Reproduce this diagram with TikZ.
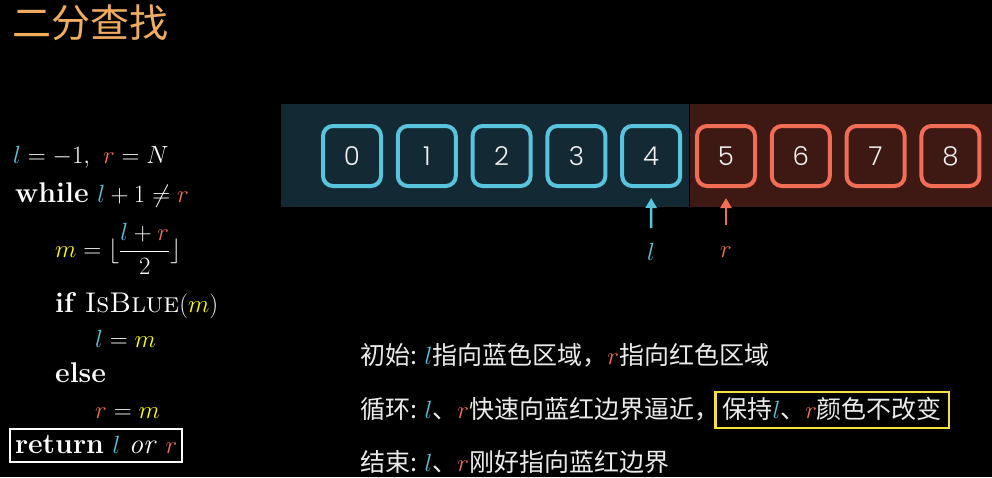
\documentclass[tikz,border=0pt]{standalone}
\usepackage{fontspec}
\newfontfamily\cjk{Noto Sans CJK SC}
\newfontfamily\digitfont{Poppins Light}
\usetikzlibrary{arrows.meta,positioning}

\definecolor{bgblue}{HTML}{132A35}
\definecolor{bgred}{HTML}{3E1913}
\definecolor{lblue}{HTML}{58C4DD}
\definecolor{lred}{HTML}{F26D55}
\definecolor{myyellow}{HTML}{FFFF00}
\definecolor{boxyellow}{HTML}{F5E13C}
\definecolor{titlegold}{HTML}{F0AC5F}

\newcommand{\lv}{\textcolor{lblue}{l}}
\newcommand{\rv}{\textcolor{lred}{r}}
\newcommand{\mv}{\textcolor{myyellow}{m}}

\tikzset{
  cell/.style={rounded corners=10pt, line width=4pt, minimum width=58pt,
    minimum height=60pt, inner sep=0pt, text=white!94!black,
    font=\digitfont\fontsize{26}{30}\selectfont},
  bluecell/.style={cell, draw=lblue},
  redcell/.style={cell, draw=lred},
  codeline/.style={anchor=base west, inner sep=0pt, text=white,
    font=\fontsize{28.5}{33}\selectfont},
  noteline/.style={anchor=base west, inner sep=0pt, text=white!92!black,
    font=\cjk\fontsize{25}{30}\selectfont},
  ptr/.style={->, line width=2.5pt, >={Triangle[width=11pt,length=10pt]}},
}

\begin{document}
\begin{tikzpicture}[x=1pt,y=-1pt]
  \fill[black] (0,0) rectangle (992,477);
  \useasboundingbox (0,0) rectangle (992,477);

  % title
  \node[anchor=base west, inner sep=0pt, text=titlegold,
    font=\cjk\fontsize{39}{44}\selectfont] (title) at (12,37) {二分查找};

  % pseudo code
  \node[codeline] (init) at (13,163) {$\lv=-1,\ \rv=N$};
  \node[codeline] (while) at (15,202) {\textbf{while} $\lv+1\neq\rv$};
  \node[codeline] (mid) at (55,257) {$\displaystyle \mv=\lfloor\frac{\lv+\rv}{2}\rfloor$};
  \node[codeline] (if) at (55,312) {\textbf{if} \textsc{IsBlue}$(\mv)$};
  \node[codeline] (setl) at (95,347) {$\lv=\mv$};
  \node[codeline] (else) at (55,382) {\textbf{else}};
  \node[codeline] (setr) at (95,418) {$\rv=\mv$};
  \node[codeline, draw=white, line width=2pt, inner xsep=5pt, inner ysep=6pt,
    text depth=3pt] (ret) at (9,453) {\textbf{return} $\lv$ \textit{or} $\rv$};

  % blue and red regions
  \fill[bgblue] (281,104) rectangle (689,207);
  \fill[bgred] (690,104) rectangle (992,207);

  % cells
  \foreach \i in {0,...,4}
    \node[bluecell] (c\i) at ({352+74.8*\i},156) {\i};
  \foreach \i in {5,...,8}
    \node[redcell] (c\i) at ({352+74.8*\i},156) {\i};

  % pointers
  \node[text=lblue, font=\fontsize{28}{33}\selectfont, inner sep=0pt] (lp) at (651,252) {$l$};
  \node[text=lred, font=\fontsize{28}{33}\selectfont, inner sep=0pt] (rp) at (726,252) {$r$};
  \draw[ptr, draw=lblue, fill=lblue, shorten <=15pt, shorten >=10pt] (lp.north) -- (c4.south);
  \draw[ptr, draw=lred, fill=lred, shorten <=21pt, shorten >=10pt] (rp.north) -- (c5.south);

  % notes
  \node[noteline] (start) at (360,364) {初始: $\lv$指向蓝色区域，$\rv$指向红色区域};
  \node[noteline] (loop) at (360,418) {循环: $\lv$、$\rv$快速向蓝红边界逼近，};
  \node[noteline, draw=boxyellow, line width=2.5pt, inner xsep=7pt, inner ysep=5pt,
    text depth=5pt, right=-5pt of loop.base east, anchor=base west]
    (keep) {保持$\lv$、$\rv$颜色不改变};
  \node[noteline] (end) at (360,471) {结束: $\lv$、$\rv$刚好指向蓝红边界};
\end{tikzpicture}
\end{document}
